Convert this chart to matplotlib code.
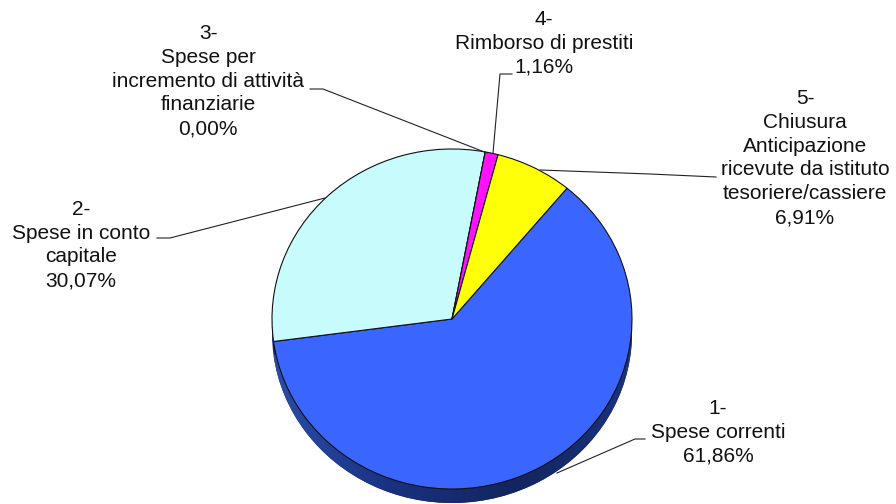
import numpy as np
import matplotlib
matplotlib.use("Agg")
import matplotlib.pyplot as plt

plt.rcParams['font.family'] = ['Liberation Sans', 'DejaVu Sans']

W, H = 896, 504
CX, CY, RX, RY = 452, 319, 180, 170
DEPTH = 14

labels = ["1-\nSpese correnti", "2-\nSpese in conto\ncapitale",
          "3-\nSpese per\nincremento di attività\nfinanziarie", "4-\nRimborso di prestiti",
          "5-\nChiusura\nAnticipazione\nricevute da istituto\ntesoriere/cassiere"]
values = [61.86, 30.07, 0.00, 1.16, 6.91]
value_text = ["61,86%", "30,07%", "0,00%", "1,16%", "6,91%"]
colors = ["#3A66FF", "#C8FCFC", "#FFFFFF", "#FF10FF", "#FFFF08"]

label_xy = [(718, 432), (81, 245), (208, 81), (544, 43), (805, 158)]
leaders = [[(645, 439), (635, 439), (557, 473)],
           [(157, 238), (170, 238), (325, 198)],
           [(310, 89), (323, 89), (487, 153)],
           [(512, 74), (500, 74), (493, 153)],
           [(716, 177), (650, 174), (540, 170)]]

fig = plt.figure(figsize=(W / 100, H / 100), dpi=100)
ax = fig.add_axes([0, 0, 1, 1])

def to_data(p):
    return ((p[0] - CX) / RX, (CY - p[1]) / RY)

START = 50.3
# extruded side
side, _ = ax.pie(values, startangle=START, counterclock=False,
                 center=(0, -DEPTH / RY), radius=1, colors=["#14286B"] * 5,
                 wedgeprops=dict(edgecolor="none"), normalize=True)
cm = matplotlib.colors.LinearSegmentedColormap.from_list(
    "side", ["#2A4DA8", "#1A3180", "#13255F", "#1A3280"])
im = ax.imshow(np.linspace(0, 1, 256)[None, :], cmap=cm, aspect="auto",
               extent=(-1, 1, -1.2, 0), zorder=side[0].get_zorder() + 0.1)
im.set_clip_path(side[0])

top, _ = ax.pie(values, startangle=START, counterclock=False, radius=1, colors=colors,
                wedgeprops=dict(edgecolor="#111111", linewidth=0.8), normalize=True)
for w in top:
    w.set_zorder(3)

for pts in leaders:
    d = np.array([to_data(p) for p in pts])
    ax.plot(d[:, 0], d[:, 1], color="#222222", lw=0.8, zorder=4)

for lab, val, xy in zip(labels, value_text, label_xy):
    x, y = to_data(xy)
    ax.text(x, y, lab + "\n" + val, ha="center", va="center", fontsize=15,
            linespacing=1.33, color="#111111", zorder=5)

ax.set_aspect("auto")
ax.set_xlim(-CX / RX, (W - CX) / RX)
ax.set_ylim((CY - H) / RY, CY / RY)
ax.axis("off")
fig.savefig("out.png", dpi=100, facecolor="white")
